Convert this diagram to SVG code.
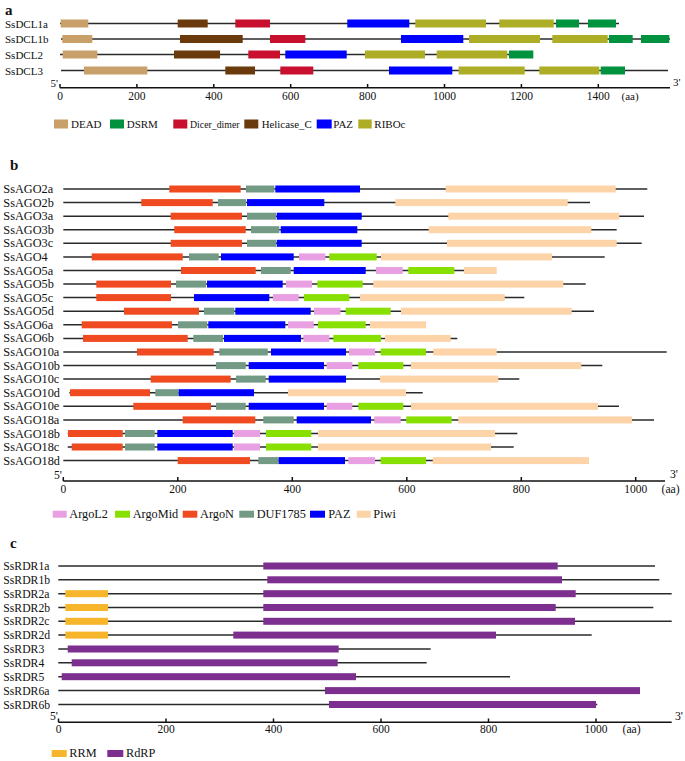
<svg xmlns="http://www.w3.org/2000/svg" width="685" height="761" viewBox="0 0 685 761">
<style>
text{font-family:"Liberation Serif","Times New Roman",serif;fill:#111}
.pl{font-weight:bold;font-size:15px}
.la{font-size:11px}
.lb{font-size:12.3px}
.lc{font-size:11.7px}
.tk{font-size:11.5px;text-anchor:middle}
.bb{stroke:#2a2a2a;stroke-width:1.5;fill:none}
.ax{stroke:#111;stroke-width:1.5;fill:none}
.DEAD{fill:#c9a06a}.DSRM{fill:#00923f}.DIC{fill:#c8102e}.HEL{fill:#6b3a0c}.PAZ{fill:#0000ff}.RIB{fill:#adad26}
.L2{fill:#e8a0e2}.MID{fill:#88e002}.AN{fill:#f04a20}.DUF{fill:#729a84}.PIWI{fill:#fdd3a8}
.RRM{fill:#f7b52c}.RDRP{fill:#7d2f8f}
</style>

<!-- Panel a -->
<text class="pl" x="5" y="15">a</text>
<g id="connectors">
<line class="bb" x1="60" y1="23.5" x2="619" y2="23.5"/>
<line class="bb" x1="61" y1="39" x2="670" y2="39"/>
<line class="bb" x1="60" y1="54.5" x2="533" y2="54.5"/>
<line class="bb" x1="61" y1="70.5" x2="668" y2="70.5"/>
</g>
<g id="SsDCL1a">
<text class="la" x="5" y="27.5">SsDCL1a</text>
<rect class="DEAD" x="60.7" y="19.5" width="27.6" height="8"/>
<rect class="HEL" x="177.7" y="19.5" width="30" height="8"/>
<rect class="DIC" x="235.3" y="19.5" width="34.7" height="8"/>
<rect class="PAZ" x="347.3" y="19.5" width="62" height="8"/>
<rect class="RIB" x="415.3" y="19.5" width="70.7" height="8"/>
<rect class="RIB" x="499.3" y="19.5" width="54.4" height="8"/>
<rect class="DSRM" x="556" y="19.5" width="23" height="8"/>
<rect class="DSRM" x="588" y="19.5" width="28" height="8"/>
</g>
<g id="SsDCL1b">
<text class="la" x="5" y="43">SsDCL1b</text>
<rect class="DEAD" x="62.3" y="35" width="30" height="8"/>
<rect class="HEL" x="180" y="35" width="62.7" height="8"/>
<rect class="DIC" x="270" y="35" width="35.3" height="8"/>
<rect class="PAZ" x="401" y="35" width="62.3" height="8"/>
<rect class="RIB" x="469" y="35" width="71" height="8"/>
<rect class="RIB" x="552.3" y="35" width="55.4" height="8"/>
<rect class="DSRM" x="609" y="35" width="23.7" height="8"/>
<rect class="DSRM" x="641" y="35" width="28.3" height="8"/>
</g>
<g id="SsDCL2">
<text class="la" x="5" y="58.5">SsDCL2</text>
<rect class="DEAD" x="62.7" y="50.5" width="34.6" height="8"/>
<rect class="HEL" x="174" y="50.5" width="46" height="8"/>
<rect class="DIC" x="248.3" y="50.5" width="31.7" height="8"/>
<rect class="PAZ" x="285.3" y="50.5" width="61.4" height="8"/>
<rect class="RIB" x="365" y="50.5" width="60" height="8"/>
<rect class="RIB" x="436.7" y="50.5" width="70.6" height="8"/>
<rect class="DSRM" x="509" y="50.5" width="24.3" height="8"/>
</g>
<g id="SsDCL3">
<text class="la" x="5" y="74.5">SsDCL3</text>
<rect class="DEAD" x="84" y="66.5" width="63.3" height="8"/>
<rect class="HEL" x="225.3" y="66.5" width="29.7" height="8"/>
<rect class="DIC" x="280.3" y="66.5" width="33" height="8"/>
<rect class="PAZ" x="389" y="66.5" width="63.3" height="8"/>
<rect class="RIB" x="458.7" y="66.5" width="66" height="8"/>
<rect class="RIB" x="539.3" y="66.5" width="60" height="8"/>
<rect class="DSRM" x="600.7" y="66.5" width="24.3" height="8"/>
</g>
<g id="axis-a">
<line class="ax" x1="60" y1="87.7" x2="670" y2="87.7"/>
<path class="ax" d="M60,84V87.7M136.9,84V87.7M213.8,84V87.7M290.7,84V87.7M367.6,84V87.7M444.5,84V87.7M521.4,84V87.7M598.3,84V87.7"/>
<text class="tk" x="60" y="99.5">0</text>
<text class="tk" x="136.9" y="99.5">200</text>
<text class="tk" x="213.8" y="99.5">400</text>
<text class="tk" x="290.7" y="99.5">600</text>
<text class="tk" x="367.6" y="99.5">800</text>
<text class="tk" x="444.5" y="99.5">1000</text>
<text class="tk" x="521.4" y="99.5">1200</text>
<text class="tk" x="598.3" y="99.5">1400</text>
<text class="la" x="621.5" y="99.5">(aa)</text>
<text class="la" x="50.5" y="87">5'</text>
<text class="la" x="673" y="86">3'</text>
</g>
<g id="legend-a">
<rect class="DEAD" x="54" y="119.5" width="14" height="9"/><text class="la" x="71" y="127.5">DEAD</text>
<rect class="DSRM" x="110" y="119.5" width="14" height="9"/><text class="la" x="126.7" y="127.5">DSRM</text>
<rect class="DIC" x="173.3" y="119.5" width="14" height="9"/><text class="la" x="190" y="127.5" textLength="49.5" lengthAdjust="spacingAndGlyphs">Dicer_dimer</text>
<rect class="HEL" x="244.3" y="119.5" width="14" height="9"/><text class="la" x="261.7" y="127.5" textLength="50" lengthAdjust="spacingAndGlyphs">Helicase_C</text>
<rect class="PAZ" x="316.7" y="119.5" width="15" height="9"/><text class="la" x="333.3" y="127.5">PAZ</text>
<rect class="RIB" x="358.3" y="119.5" width="13.4" height="9"/><text class="la" x="374.3" y="127.5">RIBOc</text>
</g>

<!-- Panel b -->
<text class="pl" x="10" y="169.5">b</text>
<g id="connectors-b">
<line class="bb" x1="63.3" y1="189" x2="647.3" y2="189"/>
<line class="bb" x1="63.3" y1="202.6" x2="590" y2="202.6"/>
<line class="bb" x1="63.3" y1="216.2" x2="644" y2="216.2"/>
<line class="bb" x1="63.3" y1="229.7" x2="616.7" y2="229.7"/>
<line class="bb" x1="63.3" y1="243.3" x2="641.7" y2="243.3"/>
<line class="bb" x1="63.3" y1="256.9" x2="604.7" y2="256.9"/>
<line class="bb" x1="63.3" y1="270.5" x2="496" y2="270.5"/>
<line class="bb" x1="63.3" y1="284.1" x2="585.7" y2="284.1"/>
<line class="bb" x1="63.3" y1="297.6" x2="524.3" y2="297.6"/>
<line class="bb" x1="63.3" y1="311.2" x2="594" y2="311.2"/>
<line class="bb" x1="63.3" y1="324.8" x2="425" y2="324.8"/>
<line class="bb" x1="63.3" y1="338.4" x2="457.3" y2="338.4"/>
<line class="bb" x1="63.3" y1="352" x2="666.7" y2="352"/>
<line class="bb" x1="63.3" y1="365.6" x2="602.3" y2="365.6"/>
<line class="bb" x1="63.3" y1="379.1" x2="519.3" y2="379.1"/>
<line class="bb" x1="69.3" y1="392.7" x2="422.7" y2="392.7"/>
<line class="bb" x1="63.3" y1="406.3" x2="619" y2="406.3"/>
<line class="bb" x1="63.3" y1="419.9" x2="654" y2="419.9"/>
<line class="bb" x1="67.7" y1="433.5" x2="517.3" y2="433.5"/>
<line class="bb" x1="67.7" y1="447" x2="513.7" y2="447"/>
<line class="bb" x1="63.3" y1="460.6" x2="588" y2="460.6"/>
</g>
<g id="SsAGO2a"><text class="lb" x="3.3" y="193">SsAGO2a</text>
<rect class="AN" x="169.3" y="185.5" width="71.4" height="7"/><rect class="DUF" x="246" y="185.5" width="28.3" height="7"/><rect class="PAZ" x="275.3" y="185.5" width="84.7" height="7"/><rect class="PIWI" x="445.7" y="185.5" width="170" height="7"/></g>
<g id="SsAGO2b"><text class="lb" x="3.3" y="206.6">SsAGO2b</text>
<rect class="AN" x="141.3" y="199.1" width="71.4" height="7"/><rect class="DUF" x="218" y="199.1" width="28" height="7"/><rect class="PAZ" x="247" y="199.1" width="77.3" height="7"/><rect class="PIWI" x="395.3" y="199.1" width="172.4" height="7"/></g>
<g id="SsAGO3a"><text class="lb" x="3.3" y="220.2">SsAGO3a</text>
<rect class="AN" x="170.7" y="212.7" width="71.3" height="7"/><rect class="DUF" x="247" y="212.7" width="29" height="7"/><rect class="PAZ" x="276.7" y="212.7" width="85" height="7"/><rect class="PIWI" x="448.3" y="212.7" width="171" height="7"/></g>
<g id="SsAGO3b"><text class="lb" x="3.3" y="233.7">SsAGO3b</text>
<rect class="AN" x="174.3" y="226.2" width="71.4" height="7"/><rect class="DUF" x="251" y="226.2" width="28.3" height="7"/><rect class="PAZ" x="280.7" y="226.2" width="76.6" height="7"/><rect class="PIWI" x="428.7" y="226.2" width="162.6" height="7"/></g>
<g id="SsAGO3c"><text class="lb" x="3.3" y="247.3">SsAGO3c</text>
<rect class="AN" x="170.7" y="239.8" width="71.3" height="7"/><rect class="DUF" x="247" y="239.8" width="29" height="7"/><rect class="PAZ" x="276.7" y="239.8" width="85" height="7"/><rect class="PIWI" x="447" y="239.8" width="169.7" height="7"/></g>
<g id="SsAGO4"><text class="lb" x="3.3" y="260.9">SsAGO4</text>
<rect class="AN" x="91.7" y="253.4" width="91" height="7"/><rect class="DUF" x="189" y="253.4" width="29.7" height="7"/><rect class="PAZ" x="221" y="253.4" width="72.7" height="7"/><rect class="L2" x="299" y="253.4" width="26.3" height="7"/><rect class="MID" x="329.3" y="253.4" width="47.4" height="7"/><rect class="PIWI" x="381" y="253.4" width="171" height="7"/></g>
<g id="SsAGO5a"><text class="lb" x="3.3" y="274.5">SsAGO5a</text>
<rect class="AN" x="181" y="267" width="74.7" height="7"/><rect class="DUF" x="261" y="267" width="29.7" height="7"/><rect class="PAZ" x="293.7" y="267" width="72" height="7"/><rect class="L2" x="376" y="267" width="26.7" height="7"/><rect class="MID" x="408.3" y="267" width="46" height="7"/><rect class="PIWI" x="464" y="267" width="32.7" height="7"/></g>
<g id="SsAGO5b"><text class="lb" x="3.3" y="288.1">SsAGO5b</text>
<rect class="AN" x="96.3" y="280.6" width="74.7" height="7"/><rect class="DUF" x="176" y="280.6" width="30" height="7"/><rect class="PAZ" x="207" y="280.6" width="75.7" height="7"/><rect class="L2" x="286" y="280.6" width="26" height="7"/><rect class="MID" x="317.3" y="280.6" width="45.4" height="7"/><rect class="PIWI" x="373.3" y="280.6" width="190" height="7"/></g>
<g id="SsAGO5c"><text class="lb" x="3.3" y="301.6">SsAGO5c</text>
<rect class="AN" x="96.3" y="294.1" width="74.7" height="7"/><rect class="PAZ" x="194" y="294.1" width="75.3" height="7"/><rect class="L2" x="273" y="294.1" width="25.7" height="7"/><rect class="MID" x="304" y="294.1" width="45.3" height="7"/><rect class="PIWI" x="360" y="294.1" width="144.7" height="7"/></g>
<g id="SsAGO5d"><text class="lb" x="3.3" y="315.2">SsAGO5d</text>
<rect class="AN" x="124" y="307.7" width="75" height="7"/><rect class="DUF" x="204" y="307.7" width="30.3" height="7"/><rect class="PAZ" x="235.3" y="307.7" width="75.4" height="7"/><rect class="L2" x="314" y="307.7" width="26.5" height="7"/><rect class="MID" x="345.7" y="307.7" width="45" height="7"/><rect class="PIWI" x="401" y="307.7" width="170.7" height="7"/></g>
<g id="SsAGO6a"><text class="lb" x="3.3" y="328.8">SsAGO6a</text>
<rect class="AN" x="81.7" y="321.3" width="90.3" height="7"/><rect class="DUF" x="178" y="321.3" width="29.3" height="7"/><rect class="PAZ" x="208.3" y="321.3" width="77" height="7"/><rect class="L2" x="288" y="321.3" width="25.7" height="7"/><rect class="MID" x="318" y="321.3" width="47.7" height="7"/><rect class="PIWI" x="370" y="321.3" width="56" height="7"/></g>
<g id="SsAGO6b"><text class="lb" x="3.3" y="342.4">SsAGO6b</text>
<rect class="AN" x="83" y="334.9" width="104.7" height="7"/><rect class="DUF" x="193.3" y="334.9" width="29.7" height="7"/><rect class="PAZ" x="224" y="334.9" width="77" height="7"/><rect class="L2" x="303.3" y="334.9" width="26" height="7"/><rect class="MID" x="333.3" y="334.9" width="47.7" height="7"/><rect class="PIWI" x="385" y="334.9" width="65.7" height="7"/></g>
<g id="SsAGO10a"><text class="lb" x="3.3" y="356">SsAGO10a</text>
<rect class="AN" x="137" y="348.5" width="76.7" height="7"/><rect class="DUF" x="219.3" y="348.5" width="48.4" height="7"/><rect class="PAZ" x="271" y="348.5" width="75" height="7"/><rect class="L2" x="349" y="348.5" width="26" height="7"/><rect class="MID" x="380.7" y="348.5" width="45.3" height="7"/><rect class="PIWI" x="433.3" y="348.5" width="63.4" height="7"/></g>
<g id="SsAGO10b"><text class="lb" x="3.3" y="369.6">SsAGO10b</text>
<rect class="DUF" x="216" y="362.1" width="29.7" height="7"/><rect class="PAZ" x="248.7" y="362.1" width="75.3" height="7"/><rect class="L2" x="326.7" y="362.1" width="25.6" height="7"/><rect class="MID" x="358.3" y="362.1" width="45" height="7"/><rect class="PIWI" x="411" y="362.1" width="170.3" height="7"/></g>
<g id="SsAGO10c"><text class="lb" x="3.3" y="383.1">SsAGO10c</text>
<rect class="AN" x="150.7" y="375.6" width="80" height="7"/><rect class="DUF" x="236" y="375.6" width="29.7" height="7"/><rect class="PAZ" x="268.7" y="375.6" width="77.3" height="7"/><rect class="PIWI" x="380" y="375.6" width="118.3" height="7"/></g>
<g id="SsAGO10d"><text class="lb" x="3.3" y="396.7">SsAGO10d</text>
<rect class="AN" x="70" y="389.2" width="80" height="7"/><rect class="DUF" x="155.3" y="389.2" width="23.4" height="7"/><rect class="PAZ" x="178.7" y="389.2" width="75.3" height="7"/><rect class="PIWI" x="288" y="389.2" width="118" height="7"/></g>
<g id="SsAGO10e"><text class="lb" x="3.3" y="410.3">SsAGO10e</text>
<rect class="AN" x="133.3" y="402.8" width="77.7" height="7"/><rect class="DUF" x="216" y="402.8" width="29.7" height="7"/><rect class="PAZ" x="248.7" y="402.8" width="75.3" height="7"/><rect class="L2" x="326.7" y="402.8" width="25.6" height="7"/><rect class="MID" x="358.3" y="402.8" width="45" height="7"/><rect class="PIWI" x="411" y="402.8" width="187" height="7"/></g>
<g id="SsAGO18a"><text class="lb" x="3.3" y="423.9">SsAGO18a</text>
<rect class="AN" x="182.7" y="416.4" width="72.6" height="7"/><rect class="DUF" x="263.3" y="416.4" width="30.4" height="7"/><rect class="PAZ" x="296.7" y="416.4" width="74.3" height="7"/><rect class="L2" x="374.3" y="416.4" width="26.4" height="7"/><rect class="MID" x="406.3" y="416.4" width="45.4" height="7"/><rect class="PIWI" x="458.3" y="416.4" width="173.7" height="7"/></g>
<g id="SsAGO18b"><text class="lb" x="3.3" y="437.5">SsAGO18b</text>
<rect class="AN" x="68" y="430" width="54.7" height="7"/><rect class="DUF" x="125" y="430" width="29.7" height="7"/><rect class="PAZ" x="157.3" y="430" width="75.4" height="7"/><rect class="L2" x="234" y="430" width="26" height="7"/><rect class="MID" x="266" y="430" width="45.3" height="7"/><rect class="PIWI" x="318" y="430" width="177" height="7"/></g>
<g id="SsAGO18c"><text class="lb" x="3.3" y="451">SsAGO18c</text>
<rect class="AN" x="71.7" y="443.5" width="51" height="7"/><rect class="DUF" x="125" y="443.5" width="29.7" height="7"/><rect class="PAZ" x="157.3" y="443.5" width="75.4" height="7"/><rect class="L2" x="234" y="443.5" width="26" height="7"/><rect class="MID" x="266" y="443.5" width="45.3" height="7"/><rect class="PIWI" x="318" y="443.5" width="173" height="7"/></g>
<g id="SsAGO18d"><text class="lb" x="3.3" y="464.6">SsAGO18d</text>
<rect class="AN" x="177.7" y="457.1" width="72.3" height="7"/><rect class="DUF" x="258.3" y="457.1" width="20.4" height="7"/><rect class="PAZ" x="278.7" y="457.1" width="66.3" height="7"/><rect class="L2" x="348.3" y="457.1" width="26.7" height="7"/><rect class="MID" x="380.7" y="457.1" width="45.3" height="7"/><rect class="PIWI" x="432.7" y="457.1" width="156.3" height="7"/></g>
<g id="axis-b">
<line class="ax" x1="63.3" y1="481" x2="665" y2="481"/>
<path class="ax" d="M63.3,477V481M177.8,477V481M292.3,477V481M406.8,477V481M521.3,477V481M635.7,477V481"/>
<text class="tk" x="63.3" y="493">0</text>
<text class="tk" x="177.8" y="493">200</text>
<text class="tk" x="292.3" y="493">400</text>
<text class="tk" x="406.8" y="493">600</text>
<text class="tk" x="521.3" y="493">800</text>
<text class="tk" x="635.7" y="493">1000</text>
<text class="lc" x="661.5" y="493">(aa)</text>
<text class="lc" x="54" y="479">5'</text>
<text class="lc" x="670" y="478">3'</text>
</g>
<g id="legend-b">
<rect class="L2" x="52.7" y="510.7" width="14" height="7"/><text class="lb" x="69.3" y="518">ArgoL2</text>
<rect class="MID" x="115" y="510.7" width="15" height="7"/><text class="lb" x="132.7" y="518">ArgoMid</text>
<rect class="AN" x="182.7" y="510.7" width="14.6" height="7"/><text class="lb" x="200" y="518">ArgoN</text>
<rect class="DUF" x="239.3" y="510.7" width="14.7" height="7"/><text class="lb" x="256.7" y="518">DUF1785</text>
<rect class="PAZ" x="310" y="510.7" width="15" height="7"/><text class="lb" x="328.3" y="518">PAZ</text>
<rect class="PIWI" x="356.7" y="510.7" width="14" height="7"/><text class="lb" x="373.3" y="518">Piwi</text>
</g>

<!-- Panel c -->
<text class="pl" x="10" y="548">c</text>
<g id="connectors-c">
<line class="bb" x1="58.3" y1="566" x2="655" y2="566"/>
<line class="bb" x1="58.3" y1="579.8" x2="659.3" y2="579.8"/>
<line class="bb" x1="58.3" y1="593.7" x2="671.7" y2="593.7"/>
<line class="bb" x1="58.3" y1="607.5" x2="653.3" y2="607.5"/>
<line class="bb" x1="58.3" y1="621.3" x2="671.7" y2="621.3"/>
<line class="bb" x1="58.3" y1="635.1" x2="591.7" y2="635.1"/>
<line class="bb" x1="58.3" y1="649" x2="430.7" y2="649"/>
<line class="bb" x1="58.3" y1="662.8" x2="426.7" y2="662.8"/>
<line class="bb" x1="58.3" y1="676.7" x2="510" y2="676.7"/>
<line class="bb" x1="58.3" y1="690.6" x2="640" y2="690.6"/>
<line class="bb" x1="58.3" y1="704.5" x2="597.3" y2="704.5"/>
</g>
<g id="SsRDR1a"><text class="lc" x="3.3" y="570">SsRDR1a</text><rect class="RDRP" x="263.3" y="562.5" width="294.4" height="7"/></g>
<g id="SsRDR1b"><text class="lc" x="3.3" y="583.8">SsRDR1b</text><rect class="RDRP" x="267.3" y="576.3" width="294.7" height="7"/></g>
<g id="SsRDR2a"><text class="lc" x="3.3" y="597.7">SsRDR2a</text><rect class="RRM" x="65.3" y="590.2" width="42.7" height="7"/><rect class="RDRP" x="263.3" y="590.2" width="312.4" height="7"/></g>
<g id="SsRDR2b"><text class="lc" x="3.3" y="611.5">SsRDR2b</text><rect class="RRM" x="65.3" y="604" width="42.7" height="7"/><rect class="RDRP" x="263.3" y="604" width="292.4" height="7"/></g>
<g id="SsRDR2c"><text class="lc" x="3.3" y="625.3">SsRDR2c</text><rect class="RRM" x="65.3" y="617.8" width="42.7" height="7"/><rect class="RDRP" x="263.3" y="617.8" width="311.7" height="7"/></g>
<g id="SsRDR2d"><text class="lc" x="3.3" y="639.1">SsRDR2d</text><rect class="RRM" x="65.3" y="631.6" width="42.7" height="7"/><rect class="RDRP" x="233.3" y="631.6" width="262.7" height="7"/></g>
<g id="SsRDR3"><text class="lc" x="3.3" y="653">SsRDR3</text><rect class="RDRP" x="67.7" y="645.5" width="271" height="7"/></g>
<g id="SsRDR4"><text class="lc" x="3.3" y="666.8">SsRDR4</text><rect class="RDRP" x="71.7" y="659.3" width="266" height="7"/></g>
<g id="SsRDR5"><text class="lc" x="3.3" y="680.7">SsRDR5</text><rect class="RDRP" x="61.7" y="673.2" width="294.3" height="7"/></g>
<g id="SsRDR6a"><text class="lc" x="3.3" y="694.6">SsRDR6a</text><rect class="RDRP" x="325" y="687.1" width="315" height="7"/></g>
<g id="SsRDR6b"><text class="lc" x="3.3" y="708.5">SsRDR6b</text><rect class="RDRP" x="329" y="701" width="267" height="7"/></g>
<g id="axis-c">
<line class="ax" x1="58.5" y1="722.3" x2="671.7" y2="722.3"/>
<path class="ax" d="M58.5,718.5V722.3M166,718.5V722.3M273.5,718.5V722.3M381,718.5V722.3M488.5,718.5V722.3M596,718.5V722.3"/>
<text class="tk" x="58.5" y="733">0</text>
<text class="tk" x="166" y="733">200</text>
<text class="tk" x="273.5" y="733">400</text>
<text class="tk" x="381" y="733">600</text>
<text class="tk" x="488.5" y="733">800</text>
<text class="tk" x="596" y="733">1000</text>
<text class="lc" x="622.5" y="733">(aa)</text>
<text class="lc" x="50" y="720">5'</text>
<text class="lc" x="675" y="720">3'</text>
</g>
<g id="legend-c">
<rect class="RRM" x="51.7" y="750" width="15" height="7"/><text class="lb" x="69.3" y="757">RRM</text>
<rect class="RDRP" x="107.3" y="750" width="16" height="7"/><text class="lb" x="126" y="757">RdRP</text>
</g>
</svg>
